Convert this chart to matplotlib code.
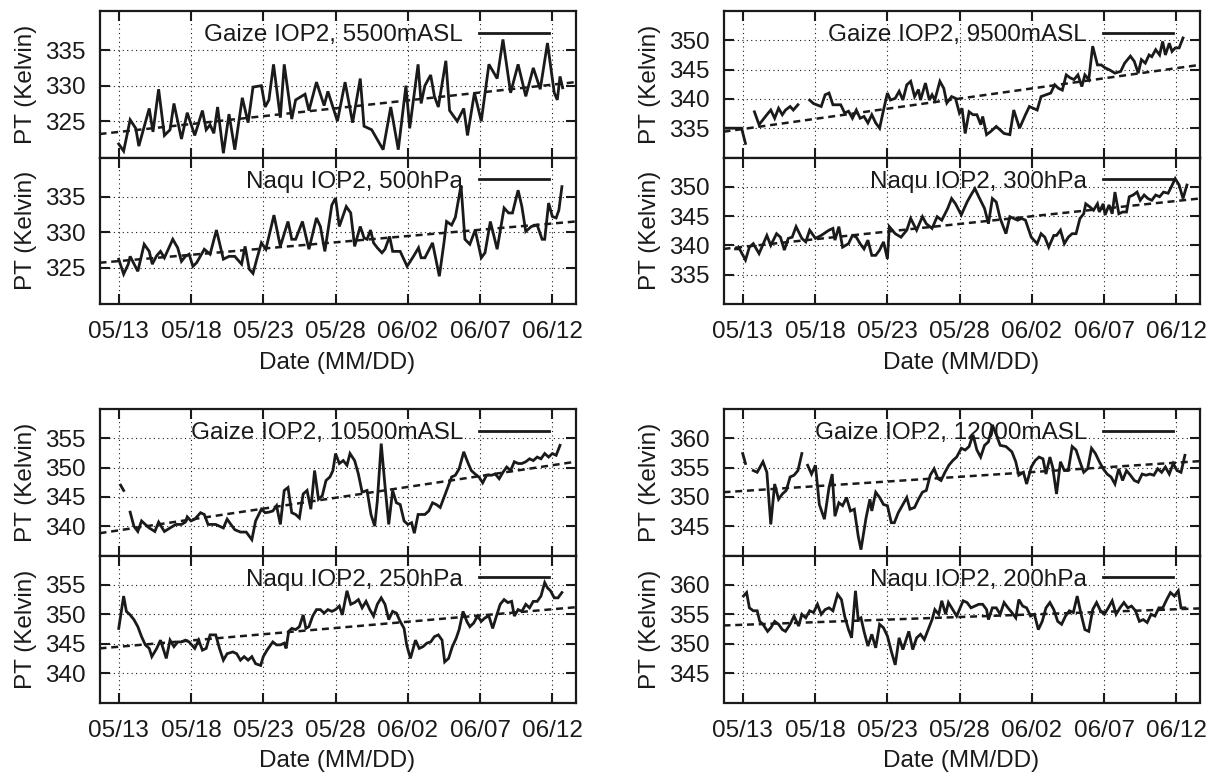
import numpy as np
import matplotlib.pyplot as plt

plt.rcParams['font.family'] = ['Liberation Sans', 'DejaVu Sans']
plt.rcParams['font.size'] = 17.5

nan = np.nan

# time axis: days since 05/13 00:00
xticks = [0, 5, 10, 15, 20, 25, 30]
xticklabels = ['05/13', '05/18', '05/23', '05/28', '06/02', '06/07', '06/12']
xlim = (-1.33, 31.6)

# Gaize 5500 mASL
g5500_t = [0.00, 0.34, 0.79, 1.18, 1.39, 2.11, 2.37, 2.76, 3.16, 3.55, 3.82, 4.34, 4.74, 5.26, 5.79,
           6.05, 6.32, 6.58, 6.84, 7.24, 7.63, 8.03, 8.55, 8.95, 9.29, 9.87, 10.13, 10.39, 10.71, 11.18,
           11.45, 11.97, 12.24, 12.89, 13.16, 13.68, 14.21, 14.47, 15.13, 15.66, 16.18, 16.71, 16.97,
           17.50, 18.29, 18.82, 19.34, 19.87, 20.13, 20.71, 20.92, 21.18, 21.58, 21.84, 22.11, 22.63,
           22.89, 23.42, 23.87, 24.13, 24.61, 25.08, 25.61, 26.18, 26.58, 27.11, 27.63, 28.16, 28.68,
           29.16, 29.66, 30.13, 30.34, 30.53, 30.71]
g5500_v = [321.8, 320.8, 325.2, 324.0, 321.5, 326.8, 323.5, 329.5, 323.0, 323.8, 327.5, 322.5, 326.2,
           323.0, 326.5, 323.8, 324.5, 323.3, 327.0, 320.5, 326.0, 321.0, 328.3, 324.8, 329.8, 330.0,
           327.0, 328.0, 333.0, 325.5, 333.0, 325.3, 328.0, 328.8, 326.5, 330.5, 327.2, 329.2, 325.0,
           330.5, 324.8, 331.0, 324.3, 323.8, 321.0, 327.0, 321.0, 330.0, 324.0, 333.0, 327.5, 330.0,
           331.5, 328.5, 327.0, 333.5, 326.5, 325.0, 326.8, 323.0, 329.0, 325.0, 333.0, 331.0, 336.5,
           329.0, 333.0, 328.5, 332.5, 329.5, 336.0, 329.0, 328.0, 331.3, 329.7]

# Naqu 500 hPa
n500_t = [0.00, 0.34, 0.66, 0.79, 1.32, 1.76, 2.11, 2.32, 2.63, 2.89, 3.16, 3.74, 4.08, 4.34, 4.61,
          4.87, 5.13, 5.39, 5.92, 6.32, 6.76, 7.24, 7.63, 8.03, 8.50, 8.74, 9.03, 9.29, 9.55, 9.87,
          10.18, 10.74, 11.18, 11.71, 11.97, 12.24, 12.71, 13.16, 13.68, 13.95, 14.26, 14.74, 15.00,
          15.26, 15.74, 16.05, 16.32, 16.71, 16.97, 17.18, 17.42, 17.63, 17.89, 18.21, 18.42, 18.74,
          18.95, 19.47, 19.95, 20.39, 20.74, 20.92, 21.18, 21.71, 22.18, 22.50, 22.68, 23.03, 23.29,
          23.68, 23.95, 24.29, 24.66, 25.08, 25.34, 25.71, 26.18, 26.66, 26.97, 27.24, 27.63, 27.89,
          28.16, 28.55, 28.95, 29.29, 29.47, 29.74, 30.00, 30.26, 30.45, 30.66]
n500_v = [326.2, 324.1, 325.5, 326.6, 324.5, 328.3, 327.3, 325.5, 326.7, 327.3, 326.4, 329.0, 327.8,
          325.9, 326.6, 326.9, 325.2, 325.7, 327.6, 326.9, 330.3, 326.2, 326.6, 326.6, 325.5, 328.0,
          324.8, 324.2, 326.2, 328.5, 327.6, 332.4, 328.0, 331.5, 329.0, 329.0, 331.5, 327.6, 332.0,
          330.8, 327.3, 333.8, 334.8, 330.8, 333.6, 332.7, 328.0, 330.8, 329.2, 329.0, 330.3, 328.5,
          327.8, 327.1, 327.6, 329.4, 327.3, 327.3, 325.2, 326.6, 327.8, 326.4, 326.4, 328.5, 323.8,
          328.5, 331.5, 331.0, 332.1, 336.6, 329.0, 328.3, 330.3, 326.4, 327.1, 331.5, 327.6, 333.4,
          332.7, 332.7, 335.9, 333.6, 330.1, 330.8, 331.0, 329.0, 329.0, 334.1, 332.2, 332.0, 333.1,
          336.4]

# Gaize 9500 mASL
g9500_t = [-1.16, -0.08, 0.19, nan,
           0.81, 1.13, 1.67, 1.94, 2.21, 2.48, 2.74, 2.96, 3.28, 3.50, 3.82, nan,
           4.63, 4.90, 5.43, 5.70, 5.97, 6.24, 6.78, 7.05, 7.32, 7.59, 7.86, 8.12, 8.39, 8.66, 8.93,
           9.20, 9.47, 9.74, 10.01, 10.22, 10.55, 10.82, 11.08, 11.35, 11.62, 11.89, 12.16, 12.30,
           12.64, 12.91, 13.10, 13.29, 13.64, 13.91, 14.12, 14.45, 14.72, 14.99, 15.17, 15.39, 15.66,
           15.93, 16.20, 16.47, 16.60, 16.87, 17.14, 17.54, 17.81, 18.08, 18.48, 18.75, 19.15, 19.56,
           19.83, 20.10, 20.37, 20.64, 20.98, 21.31, 21.58, 21.85, 22.11, 22.38, 22.65, 22.92, 23.19,
           23.46, 23.67, 23.94, 24.21, 24.54, 24.80, 25.07, 25.34, 25.75, 26.15, 26.42, 26.82, 27.09,
           27.36, 27.58, 27.85, 28.11, 28.30, 28.57, 28.84, 29.05, 29.24, 29.51, 29.70, 29.92, 30.19,
           30.46]
g9500_v = [335.0, 335.0, 332.4, nan,
           337.8, 335.6, 337.3, 338.1, 336.7, 338.4, 337.3, 338.1, 338.7, 338.1, 339.0, nan,
           339.8, 339.2, 338.7, 340.7, 341.0, 339.0, 339.0, 337.6, 337.9, 336.7, 338.1, 336.7, 337.0,
           335.9, 337.3, 335.9, 335.0, 338.1, 341.0, 339.8, 340.1, 341.3, 339.8, 342.4, 343.0, 340.4,
           341.6, 339.8, 342.7, 339.8, 340.7, 339.8, 343.0, 341.8, 339.3, 340.4, 340.1, 337.6, 338.4,
           334.1, 337.8, 337.3, 337.3, 335.6, 337.0, 333.9, 334.4, 335.3, 334.7, 334.1, 333.9, 338.1,
           335.0, 337.3, 338.7, 338.4, 338.1, 340.4, 340.7, 341.0, 342.4, 341.8, 341.5, 344.1, 343.6,
           343.3, 344.1, 342.1, 344.1, 343.3, 349.0, 345.8, 345.8, 345.3, 345.0, 344.4, 344.7, 346.1,
           347.3, 346.4, 344.4, 346.7, 346.1, 347.5, 347.2, 348.4, 347.5, 349.8, 347.5, 349.5, 348.1,
           348.7, 348.7, 350.4]

# Naqu 300 hPa
n300_t = [-0.5, -0.22, 0.19, 0.46, 0.73, 1.13, 1.67, 1.94, 2.34, 2.61, 2.88, 3.15, 3.42, 3.69, 4.09,
          4.36, 4.63, 5.03, 5.43, 5.97, 6.24, 6.38, 6.65, 6.91, 7.32, 7.59, 7.86, 8.12, 8.39, 8.66,
          8.93, 9.20, 9.47, 9.74, 10.01, 10.14, 10.55, 10.95, 11.35, 11.62, 12.03, 12.43, 12.70, 13.10,
          13.45, 13.77, 14.18, 14.45, 14.72, 15.12, 15.52, 15.79, 16.06, 16.33, 16.73, 17.00, 17.27,
          17.54, 17.81, 18.21, 18.48, 18.75, 19.02, 19.29, 19.56, 19.96, 20.37, 20.64, 20.90, 21.17,
          21.52, 21.71, 21.98, 22.25, 22.52, 22.79, 23.06, 23.33, 23.59, 23.73, 24.00, 24.27, 24.54,
          24.67, 24.94, 25.07, 25.34, 25.56, 25.75, 26.02, 26.28, 26.55, 26.74, 27.01, 27.28, 27.50,
          27.77, 28.03, 28.30, 28.57, 28.84, 29.11, 29.43, 29.65, 29.92, 30.19, 30.46, 30.73]
n300_v = [339.4, 339.4, 337.5, 339.7, 340.3, 338.6, 341.7, 340.0, 342.0, 341.4, 339.2, 341.2, 341.4,
          343.2, 341.2, 340.6, 342.6, 341.2, 341.7, 342.6, 342.9, 340.9, 343.2, 339.7, 340.3, 341.7,
          341.4, 340.3, 339.4, 340.9, 338.3, 338.3, 339.2, 340.6, 337.7, 343.2, 342.0, 341.4, 342.6,
          344.6, 342.6, 344.9, 343.7, 342.9, 344.9, 344.3, 346.3, 348.0, 347.1, 345.2, 347.4, 348.6,
          349.7, 348.3, 346.3, 343.7, 348.0, 347.4, 344.6, 342.0, 344.9, 344.6, 344.3, 344.6, 344.3,
          341.4, 340.3, 342.0, 341.4, 339.7, 341.7, 341.7, 342.6, 340.3, 341.4, 342.0, 342.0, 344.6,
          345.4, 347.1, 346.6, 346.0, 347.1, 345.7, 347.1, 345.2, 346.9, 345.4, 349.1, 345.4, 345.7,
          345.7, 348.3, 348.6, 349.1, 347.7, 348.6, 348.0, 347.7, 348.6, 348.3, 349.1, 348.9, 350.0,
          351.4, 350.3, 348.0, 350.3]

# Gaize 10500 mASL
g10500_t = [0.13, 0.34, nan,
            0.79, 1.05, 1.32, 1.58, 1.84, 2.11, 2.50, 2.76, 3.16, 3.55, 3.95, 4.34, 4.61, 4.74, 5.00,
            5.26, 5.66, 5.92, 6.18, 6.71, 6.97, 7.24, 7.50, 7.76, 8.03, 8.42, 8.82, 9.21, 9.47, 9.87,
            10.13, 10.39, 10.66, 10.92, 11.18, 11.45, 11.71, 11.97, 12.24, 12.50, 12.76, 13.03, 13.29,
            13.55, 13.82, 14.08, 14.34, 14.61, 14.82, 15.00, 15.26, 15.53, 15.79, 16.00, 16.32, 16.58,
            16.84, 17.18, 17.45, 17.71, 17.89, 18.16, 18.42, 18.68, 18.95, 19.21, 19.47, 19.74, 20.00,
            20.26, 20.45, 20.71, 20.92, 21.18, 21.45, 21.71, 21.97, 22.24, 22.50, 22.76, 23.03, 23.29,
            23.55, 23.87, 24.13, 24.39, 24.66, 24.92, 25.18, 25.45, 25.79, 26.05, 26.32, 26.58, 26.84,
            27.11, 27.37, 27.63, 27.89, 28.16, 28.42, 28.68, 28.95, 29.21, 29.47, 29.74, 30.00, 30.26,
            30.53]
g10500_v = [347.0, 346.1, nan,
            342.4, 340.0, 339.1, 340.9, 340.3, 339.7, 339.1, 340.7, 339.1, 339.7, 340.3, 340.3, 340.7,
            341.6, 340.9, 341.2, 342.3, 342.0, 340.3, 340.3, 340.0, 339.7, 341.2, 340.3, 339.4, 339.0,
            339.0, 337.7, 340.9, 342.9, 342.3, 342.4, 342.6, 343.5, 340.3, 346.1, 346.6, 342.3, 342.0,
            341.4, 345.5, 346.1, 342.9, 349.5, 344.6, 345.2, 347.8, 348.4, 349.5, 352.4, 350.7, 351.2,
            350.4, 352.4, 351.2, 348.9, 345.8, 346.1, 342.0, 340.0, 344.3, 354.1, 346.9, 340.3, 346.1,
            344.0, 343.7, 340.9, 340.3, 340.6, 338.8, 342.0, 342.0, 342.0, 342.6, 344.0, 343.7, 343.2,
            344.9, 346.6, 348.4, 348.7, 349.8, 352.7, 351.0, 349.5, 348.9, 348.4, 347.4, 348.7, 348.7,
            348.9, 348.1, 349.2, 350.1, 349.5, 351.0, 350.7, 350.7, 351.0, 351.5, 351.2, 351.8, 351.5,
            352.4, 351.8, 352.4, 352.1, 353.8]

# Naqu 250 hPa
n250_t = [0.00, 0.34, 0.53, 0.79, 1.05, 1.32, 1.58, 1.84, 2.11, 2.29, 2.63, 2.89, 3.29, 3.55, 3.82,
          4.08, 4.34, 4.61, 4.87, 5.26, 5.53, 5.79, 6.05, 6.32, 6.71, 6.97, 7.24, 7.50, 7.89, 8.16,
          8.42, 8.68, 8.95, 9.21, 9.47, 9.82, 10.00, 10.26, 10.66, 10.92, 11.18, 11.45, 11.58, 11.76,
          11.97, 12.24, 12.50, 12.76, 12.95, 13.16, 13.42, 13.68, 13.95, 14.21, 14.47, 14.74, 15.00,
          15.26, 15.47, 15.79, 16.05, 16.32, 16.58, 16.84, 17.11, 17.37, 17.63, 17.89, 18.16, 18.42,
          18.68, 18.95, 19.21, 19.47, 19.74, 19.92, 20.18, 20.53, 20.79, 21.05, 21.32, 21.58, 21.84,
          22.11, 22.37, 22.55, 22.82, 23.08, 23.34, 23.55, 23.82, 24.08, 24.29, 24.55, 24.82, 25.08,
          25.34, 25.61, 25.87, 26.13, 26.39, 26.66, 26.92, 27.18, 27.37, 27.63, 27.89, 28.16, 28.42,
          28.68, 28.95, 29.21, 29.47, 29.66, 29.87, 30.13, 30.39, 30.66]
n250_v = [347.6, 353.1, 350.5, 349.9, 349.1, 347.9, 346.2, 344.8, 344.2, 342.8, 344.2, 345.6, 342.5,
          345.6, 344.5, 345.3, 345.3, 345.6, 345.3, 344.2, 345.6, 343.9, 344.2, 346.5, 346.5, 344.2,
          342.2, 343.3, 343.6, 343.3, 342.2, 342.8, 342.2, 342.8, 341.6, 341.3, 342.8, 343.9, 345.3,
          344.8, 344.8, 345.1, 344.2, 347.1, 347.6, 347.4, 347.9, 349.9, 347.6, 347.9, 349.7, 350.8,
          350.8, 350.2, 350.8, 350.5, 350.8, 351.4, 349.9, 354.0, 351.7, 352.0, 352.5, 351.1, 352.2,
          350.8, 349.7, 351.7, 352.8, 351.7, 349.1, 350.5, 350.2, 348.8, 347.6, 344.8, 342.5, 345.6,
          344.2, 344.5, 345.1, 345.3, 346.2, 346.5, 345.6, 341.9, 342.5, 344.5, 345.9, 347.4, 350.5,
          348.8, 347.9, 348.5, 349.7, 348.8, 349.4, 349.7, 347.6, 349.7, 351.7, 352.5, 352.0, 352.2,
          349.7, 350.8, 350.5, 351.7, 351.1, 352.2, 352.2, 353.1, 355.4, 354.5, 354.0, 352.8, 352.8,
          353.7]

# Gaize 12000 mASL
g12000_t = [0.00, 0.19, nan,
            0.73, 1.00, 1.40, 1.67, 1.94, 2.21, 2.48, 2.74, 3.01, 3.28, 3.55, 3.82, 4.09, nan,
            4.49, 4.76, 5.03, 5.30, 5.65, 5.97, 6.19, 6.38, 6.65, 6.91, 7.18, 7.45, 7.72, 7.99, 8.18,
            8.53, 8.80, 8.93, 9.20, 9.47, 9.74, 10.01, 10.28, 10.49, 10.76, 11.08, 11.35, 11.57, 11.89,
            12.16, 12.43, 12.70, 12.97, 13.24, 13.51, 13.72, 13.99, 14.26, 14.53, 14.80, 15.12, 15.39,
            15.66, 15.93, 16.20, 16.46, 16.73, 17.00, 17.27, 17.54, 17.81, 18.21, 18.62, 18.89, 19.10,
            19.42, 19.64, 19.96, 20.23, 20.50, 20.77, 20.98, 21.25, 21.44, 21.71, 21.98, 22.25, 22.52,
            22.79, 23.06, 23.33, 23.59, 23.86, 24.13, 24.40, 24.67, 24.94, 25.21, 25.48, 25.75, 26.01,
            26.28, 26.55, 26.82, 27.09, 27.36, 27.63, 27.90, 28.17, 28.44, 28.71, 28.98, 29.24, 29.51,
            29.78, 30.05, 30.32, 30.59]
g12000_v = [357.4, 355.7, nan,
            354.5, 354.2, 356.0, 354.2, 345.3, 352.2, 349.6, 350.5, 351.1, 353.4, 353.7, 354.5, 357.4, nan,
            355.4, 353.9, 355.4, 348.7, 346.2, 351.6, 353.9, 346.7, 349.0, 348.5, 349.9, 347.6, 347.9,
            343.3, 341.0, 346.4, 349.6, 347.6, 350.8, 349.9, 348.7, 348.5, 345.6, 345.6, 347.3, 348.7,
            349.9, 347.9, 348.2, 349.6, 350.8, 351.1, 353.7, 354.8, 353.1, 352.8, 354.2, 355.4, 356.2,
            356.8, 358.3, 358.0, 358.6, 360.6, 358.0, 356.8, 358.8, 359.4, 362.3, 360.6, 358.8, 358.6,
            357.7, 356.0, 353.7, 354.2, 352.2, 355.1, 356.2, 356.8, 356.5, 353.9, 356.8, 355.1, 350.5,
            356.0, 354.5, 354.5, 358.6, 358.0, 356.0, 354.2, 354.8, 358.3, 357.4, 356.0, 354.8, 353.9,
            353.4, 352.2, 354.8, 352.8, 354.5, 353.7, 352.8, 352.5, 353.9, 353.7, 353.9, 353.7, 354.8,
            354.2, 355.1, 353.9, 355.7, 354.5, 354.2, 357.1]

# Naqu 200 hPa
n200_t = [0.05, 0.27, 0.46, 0.73, 1.00, 1.18, 1.40, 1.72, 1.94, 2.21, 2.48, 2.74, 2.96, 3.28, 3.55,
          3.87, 4.09, 4.36, 4.63, 4.90, 5.17, 5.43, 5.70, 5.97, 6.24, 6.56, 6.83, 7.05, 7.32, 7.53,
          7.80, 7.99, 8.18, 8.39, 8.66, 8.93, 9.20, 9.47, 9.74, 10.01, 10.28, 10.55, 10.82, 11.08,
          11.49, 11.76, 12.03, 12.30, 12.56, 12.83, 13.10, 13.29, 13.56, 13.77, 14.04, 14.23, 14.53,
          14.80, 14.99, 15.25, 15.52, 15.79, 16.06, 16.33, 16.60, 16.87, 17.00, 17.27, 17.54, 17.81,
          18.08, 18.35, 18.62, 18.89, 19.10, 19.37, 19.64, 19.91, 20.18, 20.45, 20.72, 20.98, 21.25,
          21.52, 21.79, 22.06, 22.33, 22.60, 22.87, 23.14, 23.41, 23.67, 23.94, 24.21, 24.48, 24.75,
          25.02, 25.29, 25.56, 25.83, 26.10, 26.37, 26.64, 26.90, 27.17, 27.44, 27.71, 27.98, 28.25,
          28.52, 28.79, 29.06, 29.33, 29.59, 29.86, 30.13, 30.32, 30.59]
n200_v = [358.1, 358.7, 356.1, 355.6, 355.6, 353.8, 353.3, 352.1, 352.7, 353.8, 353.3, 352.4, 352.1,
          353.3, 354.7, 353.0, 355.0, 354.4, 355.6, 355.3, 356.7, 355.0, 355.8, 356.1, 355.6, 358.4,
          357.5, 354.7, 352.4, 351.0, 359.0, 354.1, 354.4, 352.1, 349.6, 351.6, 349.3, 353.3, 352.7,
          351.3, 348.7, 346.4, 351.0, 349.0, 352.1, 349.0, 351.0, 351.6, 350.7, 352.4, 354.1, 355.8,
          355.0, 357.3, 355.0, 357.0, 355.8, 354.7, 355.8, 357.3, 357.0, 356.1, 356.4, 356.7, 356.7,
          355.8, 354.1, 356.1, 356.1, 355.0, 357.0, 356.1, 355.3, 354.4, 357.5, 356.4, 356.1, 354.7,
          355.0, 352.4, 353.8, 356.1, 357.0, 355.8, 353.8, 353.3, 354.7, 355.6, 355.3, 358.1, 355.0,
          352.4, 352.1, 355.8, 357.0, 355.6, 355.0, 356.1, 357.3, 355.0, 356.1, 357.0, 356.1, 356.4,
          355.6, 353.8, 354.1, 353.6, 355.0, 354.7, 356.1, 356.1, 357.5, 358.7, 358.1, 359.0, 356.1,
          356.1]

# linear trend lines, values at the left and right ends of the x range
g5500_trend = [323.2, 330.5]
n500_trend = [325.7, 331.5]
g9500_trend = [334.4, 345.8]
n300_trend = [339.4, 348.0]
g10500_trend = [338.8, 351.0]
n250_trend = [344.2, 351.2]
g12000_trend = [350.8, 356.1]
n200_trend = [353.1, 356.0]

ink = '#1a1a1a'
W, H = 1209.0, 772.0


def panel(rect, t, v, trend, name, ylim, yticks, bottom):
    x0, top, w, h = rect
    ax = fig.add_axes([x0 / W, 1 - (top + h) / H, w / W, h / H])
    ax.plot(t, v, color=ink, lw=2.0, solid_joinstyle='miter')
    ax.plot(xlim, trend, color=ink, lw=1.8, linestyle=(0, (2.8, 1.9)))
    ax.set_xlim(xlim)
    ax.set_ylim(ylim)
    ax.set_xticks(xticks)
    ax.set_yticks(yticks)
    ax.grid(True, color=ink, linestyle=(0, (1, 3)), linewidth=0.8)
    ax.tick_params(direction='in', length=7.5, width=1.5, top=True, right=True,
                   colors=ink, labelsize=17.5, pad=10)
    ax.tick_params(axis='x', pad=12.5)
    for s in ax.spines.values():
        s.set_linewidth(1.6)
        s.set_color(ink)
    if bottom:
        ax.set_xticklabels(xticklabels)
        ax.set_xlabel('Date (MM/DD)', fontsize=17.5, labelpad=6, color=ink)
    else:
        ax.tick_params(labelbottom=False)
    ax.text(-0.155, 0.5, 'PT (Kelvin)', transform=ax.transAxes, rotation=90,
            ha='center', va='center', fontsize=17.5, color=ink)
    line, = ax.plot([], [], color=ink, lw=2.0)
    leg = ax.legend([line], [name], loc='center right', bbox_to_anchor=(0.945, 0.835),
                    frameon=False, markerfirst=False, handlelength=2.9, handletextpad=0.65,
                    borderpad=0, borderaxespad=0, fontsize=17.5)
    for txt in leg.get_texts():
        txt.set_color(ink)
    return ax


fig = plt.figure(figsize=(W / 100, H / 100), dpi=100)

lx, rx, pw = 99.5, 723.5, 476
panel((lx, 11, pw, 146.5), g5500_t, g5500_v, g5500_trend, 'Gaize IOP2, 5500mASL',
      (319.9, 340.5), [325, 330, 335], False)
panel((lx, 157.5, pw, 146.5), n500_t, n500_v, n500_trend, 'Naqu IOP2, 500hPa',
      (319.9, 340.5), [325, 330, 335], True)
panel((rx, 11, pw, 146.5), g9500_t, g9500_v, g9500_trend, 'Gaize IOP2, 9500mASL',
      (330, 355), [335, 340, 345, 350], False)
panel((rx, 157.5, pw, 146.5), n300_t, n300_v, n300_trend, 'Naqu IOP2, 300hPa',
      (330, 355), [335, 340, 345, 350], True)
panel((lx, 409, pw, 146.5), g10500_t, g10500_v, g10500_trend, 'Gaize IOP2, 10500mASL',
      (335, 360), [340, 345, 350, 355], False)
panel((lx, 555.5, pw, 147), n250_t, n250_v, n250_trend, 'Naqu IOP2, 250hPa',
      (335, 360), [340, 345, 350, 355], True)
panel((rx, 409, pw, 146.5), g12000_t, g12000_v, g12000_trend, 'Gaize IOP2, 12000mASL',
      (340, 365), [345, 350, 355, 360], False)
panel((rx, 555.5, pw, 147), n200_t, n200_v, n200_trend, 'Naqu IOP2, 200hPa',
      (340, 365), [345, 350, 355, 360], True)

fig.savefig('out.png', dpi=100, facecolor='white')
